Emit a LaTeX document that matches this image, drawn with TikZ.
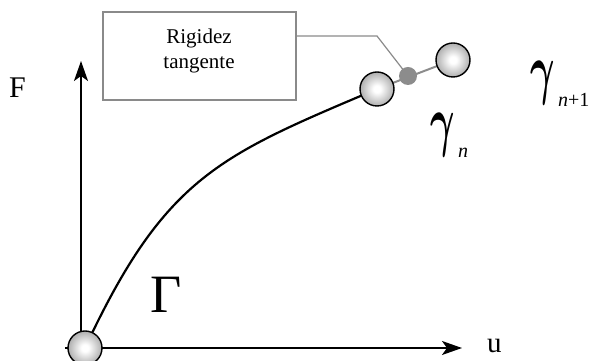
\documentclass[tikz,border=0pt]{standalone}
\usepackage{fix-cm}
\usepackage{fontspec}
\setmainfont{Liberation Serif}
\usepackage{graphicx}
\usetikzlibrary{positioning, calc, arrows.meta}
\definecolor{beadEdge}{HTML}{5E5E5E}
\definecolor{linkGray}{HTML}{8C8C8C}
\definecolor{leaderGray}{HTML}{8A8A8A}
\pgfdeclareradialshading{bead}{\pgfpoint{0bp}{0bp}}{color(0bp)=(white); color(5bp)=(white); color(45bp)=(beadEdge); color(50bp)=(beadEdge)}

\begin{document}
\begin{tikzpicture}[x=1pt, y=1pt,
	bead/.style={circle, draw=black, line width=1.4pt, shading=bead, minimum size=34pt, inner sep=0pt},
	joint/.style={circle, fill=linkGray, minimum size=18pt, inner sep=0pt},
	axis/.style={line width=1.6pt, -{Stealth[length=20pt, width=14pt, inset=5pt]}},
	gam/.style={inner sep=0pt, font=\fontsize{68}{68}\selectfont\mathversion{bold}},
	idx/.style={inner sep=0pt, font=\fontsize{20}{20}\selectfont\itshape}]
	% Fixed frame
	\useasboundingbox (0,0) rectangle (590,361);
	
	% State positions
	\coordinate (o) at (85,13);
	\coordinate (bn) at (377,272);
	\coordinate (bnext) at (453,301);
	\coordinate (jc) at (408,285);
	
	% Axes
	\coordinate (xstart) at (65,13);
	\coordinate (xend) at (462,13);
	\coordinate (ystart) at (81,13);
	\coordinate (yend) at (81,300);
	\draw[axis] (xstart) -- (xend);
	\draw[axis] (ystart) -- (yend);
	
	% Axis labels
	\node[anchor=base west, inner sep=0pt, font=\fontsize{29}{29}\selectfont] (ulab) at (487,8) {u};
	\node[anchor=base west, inner sep=0pt, font=\fontsize{30}{30}\selectfont] (flab) at (9,263) {F};
	\node[anchor=base west, inner sep=0pt, font=\fontsize{54}{54}\selectfont] (glab) at (150,48) {Γ};
	
	% Load path
	\draw[line width=2.2pt] (o) .. controls +(65:190) and +(203:170) .. (bn);
	
	% Tangent link between states
	\draw[linkGray, line width=2pt] (bn) -- (bnext);
	
	% Tag box and leader
	\node[draw=leaderGray, line width=1.2pt, minimum width=193pt, minimum height=88pt, inner sep=0pt] (rig) at (199.5,305) {};
	\node[align=center, inner sep=0pt, font=\fontsize{21}{25}\selectfont] (rigtxt) at (199,310) {Rigidez\\tangente};
	\coordinate (bend) at (377,325);
	\draw[leaderGray, line width=1.2pt] (rig.east |- bend) -- (bend) -- (jc);
	
	% States
	\node[bead] (ob) at (o) {};
	\node[bead] (bnb) at (bn) {};
	\node[bead] (bnextb) at (bnext) {};
	\node[joint] (j) at (jc) {};
	
	% State labels
	\node[gam, anchor=center] (gn) at (442.5,226) {\scalebox{0.55}[1]{$\gamma$}};
	\node[idx, anchor=base west] (gnidx) at (458,203) {n};
	\node[gam, anchor=center] (gn1) at (543,278) {\scalebox{0.55}[1]{$\gamma$}};
	\node[idx, anchor=base west] (gn1idx) at (558,254) {n\textup{+1}};
\end{tikzpicture}
\end{document}
